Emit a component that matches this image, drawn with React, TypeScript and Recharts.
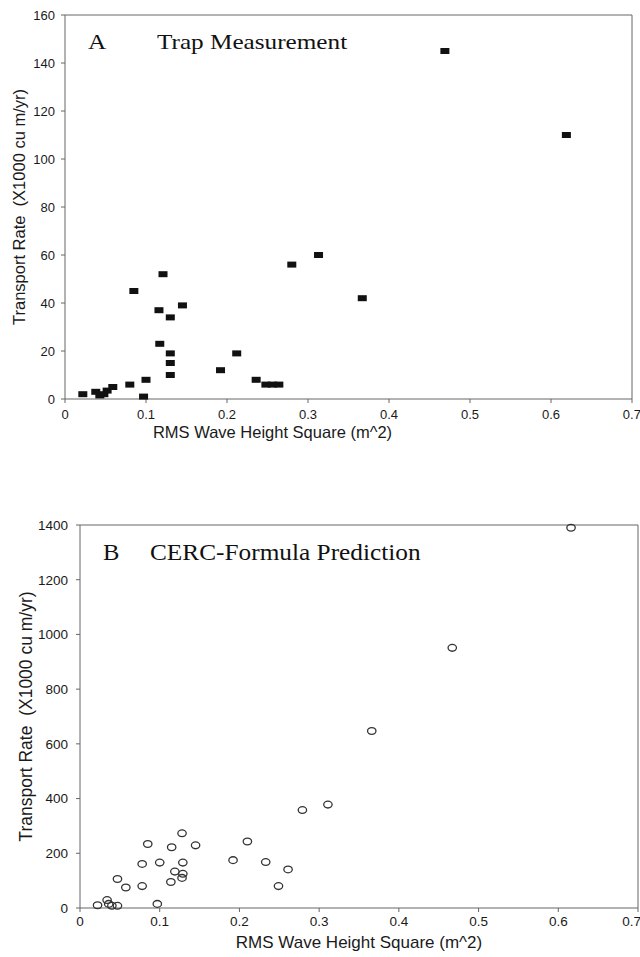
import React from 'react';
import { ScatterChart, Scatter, XAxis, YAxis, ReferenceLine } from 'recharts';

const xTicks = [0, 0.1, 0.2, 0.3, 0.4, 0.5, 0.6, 0.7];
const trapYTicks = [0, 20, 40, 60, 80, 100, 120, 140, 160];
const cercYTicks = [0, 200, 400, 600, 800, 1000, 1200, 1400];

// Panel A: trap measurement
const trapWaveSq = [0.022, 0.038, 0.043, 0.048, 0.052, 0.059, 0.08, 0.085, 0.097, 0.1, 0.116, 0.117, 0.121, 0.13, 0.13, 0.13, 0.13, 0.145, 0.192, 0.212, 0.236, 0.248, 0.256, 0.264, 0.28, 0.313, 0.367, 0.469, 0.619];
const trapRate = [2, 3, 1.5, 2, 3.5, 5, 6, 45, 1, 8, 37, 23, 52, 34, 19, 15, 10, 39, 12, 19, 8, 6, 6, 6, 56, 60, 42, 145, 110];

// Panel B: CERC-formula prediction
const cercWaveSq = [0.022, 0.034, 0.036, 0.04, 0.047, 0.047, 0.0575, 0.078, 0.078, 0.085, 0.097, 0.1, 0.114, 0.115, 0.119, 0.128, 0.128, 0.129, 0.129, 0.145, 0.192, 0.21, 0.233, 0.249, 0.261, 0.279, 0.311, 0.366, 0.467, 0.616];
const cercRate = [10, 29, 15, 8, 8, 106, 75, 80, 161, 234, 15, 166, 95, 222, 133, 273, 110, 125, 166, 229, 175, 243, 168, 80, 141, 358, 378, 647, 951, 1390];

const trapData = trapWaveSq.map((x, i) => ({ x, y: trapRate[i] }));
const cercData = cercWaveSq.map((x, i) => ({ x, y: cercRate[i] }));

const SANS = '"Liberation Sans", Arial, Helvetica, sans-serif';
const SERIF = '"Liberation Serif", "Times New Roman", serif';
const AXIS = '#666';
const TEXT = '#1a1a1a';

const SquareMark = (p: any) => (
  <rect x={p.cx - 4.5} y={p.cy - 3} width={9} height={6} fill="#111" />
);
const CircleMark = (p: any) => (
  <ellipse cx={p.cx} cy={p.cy} rx={4.2} ry={3.4} fill="none" stroke="#333" strokeWidth={1.3} />
);

const fmtX = (v: number) => (v === 0 ? '0' : String(v));

export default function App() {
  return (
    <div style={{ position: 'absolute', left: 0, top: 0, width: 640, height: 957, background: '#fff', overflow: 'hidden' }}>
      <div style={{ position: 'absolute', left: 0, top: 0 }}>
        <ScatterChart width={640} height={445} margin={{ top: 15, right: 8, bottom: 0, left: 0 }}>
          <XAxis
            type="number"
            dataKey="x"
            domain={[0, 0.7]}
            ticks={xTicks}
            tickFormatter={fmtX}
            height={46}
            tickSize={4}
            tickMargin={7}
            stroke={AXIS}
            tick={{ fontSize: 13, fill: TEXT, fontFamily: SANS }}
            label={{ value: 'RMS Wave Height Square (m^2)', position: 'insideBottom', offset: 7, dx: -76, style: { fontSize: 16.5, fill: TEXT, fontFamily: SANS } }}
          />
          <YAxis
            type="number"
            dataKey="y"
            domain={[0, 160]}
            ticks={trapYTicks}
            width={65}
            tickSize={4}
            tickMargin={6}
            stroke={AXIS}
            tick={{ fontSize: 13, fill: TEXT, fontFamily: SANS }}
            label={{ value: 'Transport Rate\u00a0 (X1000 cu m/yr)', angle: -90, position: 'insideLeft', offset: 19, style: { textAnchor: 'middle', fontSize: 16.5, fill: TEXT, fontFamily: SANS } }}
          />
          <ReferenceLine y={160} stroke={AXIS} strokeWidth={1} />
          <ReferenceLine x={0.7} stroke={AXIS} strokeWidth={1} />
          <Scatter data={trapData} shape={SquareMark} isAnimationActive={false} />
        </ScatterChart>
      </div>
      <div style={{ position: 'absolute', left: 88, top: 32.4, fontFamily: SERIF, fontSize: 21, lineHeight: 1, whiteSpace: 'pre', transform: 'scaleX(1.2)', transformOrigin: 'left top', color: '#111' }}>
        A
      </div>
      <div style={{ position: 'absolute', left: 157, top: 32.4, fontFamily: SERIF, fontSize: 21, lineHeight: 1, whiteSpace: 'pre', transform: 'scaleX(1.2)', transformOrigin: 'left top', color: '#111' }}>
        Trap Measurement
      </div>

      <div style={{ position: 'absolute', left: 0, top: 480 }}>
        <ScatterChart width={640} height={477} margin={{ top: 45, right: 2, bottom: 0, left: 0 }}>
          <XAxis
            type="number"
            dataKey="x"
            domain={[0, 0.7]}
            ticks={xTicks}
            tickFormatter={fmtX}
            height={49}
            tickSize={4}
            tickMargin={4}
            stroke={AXIS}
            tick={{ fontSize: 13.5, fill: TEXT, fontFamily: SANS }}
            label={{ value: 'RMS Wave Height Square (m^2)', position: 'insideBottom', offset: 9, style: { fontSize: 17, fill: TEXT, fontFamily: SANS } }}
          />
          <YAxis
            type="number"
            dataKey="y"
            domain={[0, 1400]}
            ticks={cercYTicks}
            width={80}
            tickSize={4}
            tickMargin={8}
            stroke={AXIS}
            tick={{ fontSize: 13.5, fill: TEXT, fontFamily: SANS }}
            label={{ value: 'Transport Rate\u00a0 (X1000 cu m/yr)', angle: -90, position: 'insideLeft', offset: 26, style: { textAnchor: 'middle', fontSize: 17.5, fill: TEXT, fontFamily: SANS } }}
          />
          <ReferenceLine y={1400} stroke={AXIS} strokeWidth={1} />
          <ReferenceLine x={0.7} stroke={AXIS} strokeWidth={1} />
          <Scatter data={cercData} shape={CircleMark} isAnimationActive={false} />
        </ScatterChart>
      </div>
      <div style={{ position: 'absolute', left: 103, top: 540.7, fontFamily: SERIF, fontSize: 23, lineHeight: 1, whiteSpace: 'pre', transform: 'scaleX(1.07)', transformOrigin: 'left top', color: '#111' }}>
        B
      </div>
      <div style={{ position: 'absolute', left: 150, top: 540.7, fontFamily: SERIF, fontSize: 23, lineHeight: 1, whiteSpace: 'pre', transform: 'scaleX(1.1)', transformOrigin: 'left top', color: '#111' }}>
        CERC-Formula Prediction
      </div>
    </div>
  );
}
